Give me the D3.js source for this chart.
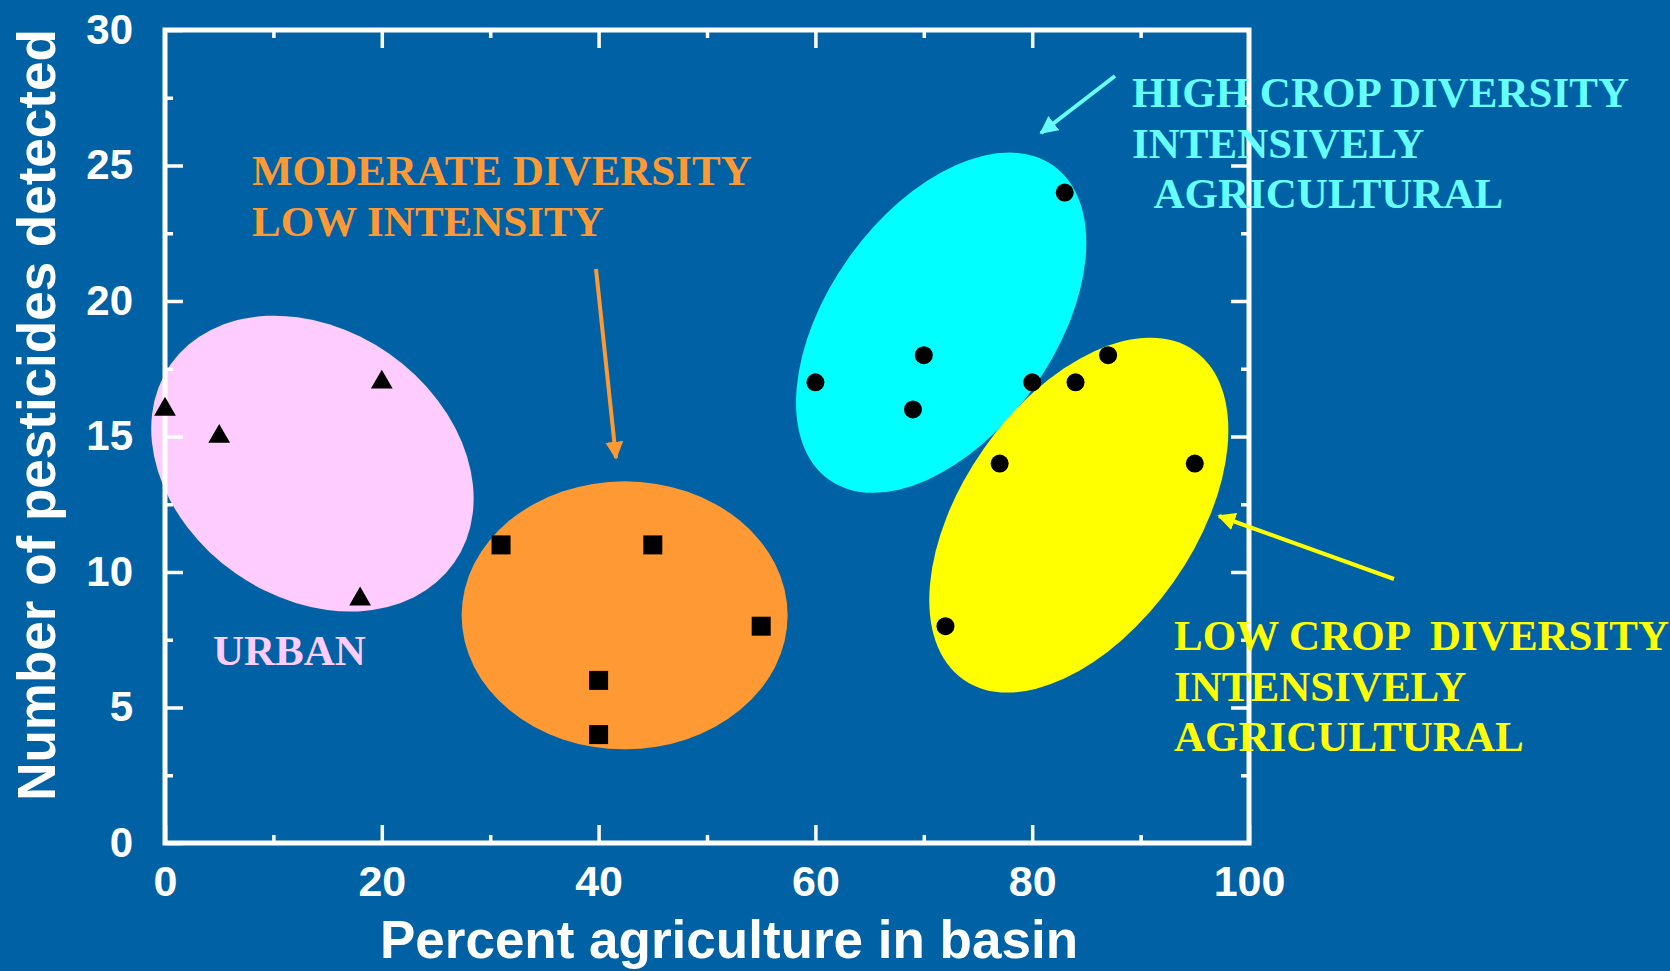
<!DOCTYPE html>
<html>
<head>
<meta charset="utf-8">
<script src="https://cdn.jsdelivr.net/npm/d3@7"></script>
<style>
  html, body { margin: 0; padding: 0; background: #0062a4; }
  svg { display: block; }
  .tick text { font-family: "Liberation Sans", Arial, sans-serif; font-weight: bold; fill: #fff; }
</style>
</head>
<body>
<svg id="chart" width="1670" height="971"></svg>
<script>
// Pesticides detected vs. percent agriculture, by basin type
const urbanX = [0, 5, 20, 18];
const urbanY = [16, 15, 17, 9];

const moderateX = [31, 45, 55, 40, 40];
const moderateY = [11, 11, 8, 6, 4];

const highDiversityX = [60, 69, 70, 80, 83];
const highDiversityY = [17, 16, 18, 17, 24];

const lowDiversityX = [72, 77, 84, 87, 95];
const lowDiversityY = [8, 14, 17, 18, 14];

// Centre of each group's shaded zone, in data units
const zoneCenterX = [13.6, 42.4, 71.6, 84.3];
const zoneCenterY = [14.0, 8.4, 19.2, 12.1];

const xMajorTicks = [0, 20, 40, 60, 80, 100];
const xMinorTicks = [10, 30, 50, 70, 90];
const yMajorTicks = [0, 5, 10, 15, 20, 25, 30];
const yMinorTicks = [2.5, 7.5, 12.5, 17.5, 22.5, 27.5];

const W = 1670, H = 971;
const svg = d3.select("#chart");
svg.append("rect").attr("width", W).attr("height", H).attr("fill", "#0062a4");

const plot = { left: 165, right: 1249, top: 30, bottom: 843 };
const x = d3.scaleLinear().domain([0, 100]).range([plot.left, plot.right]);
const y = d3.scaleLinear().domain([0, 30]).range([plot.bottom, plot.top]);

// Shaded zones (pixel radii and tilt per zone)
const zoneStyle = [
  { fill: "#ffccff", rx: 173, ry: 134, angle: 35 },
  { fill: "#ff9933", rx: 163, ry: 134, angle: 0 },
  { fill: "#00ffff", rx: 193, ry: 113, angle: -54.4 },
  { fill: "#ffff00", rx: 201, ry: 116, angle: -54.9 }
];
const zones = zoneCenterX.map((cx, i) => ({ cx, cy: zoneCenterY[i], ...zoneStyle[i] }));
svg.append("g").selectAll("ellipse").data(zones).join("ellipse")
  .attr("transform", d => `translate(${x(d.cx)},${y(d.cy)}) rotate(${d.angle})`)
  .attr("rx", d => d.rx).attr("ry", d => d.ry)
  .attr("fill", d => d.fill);

// Frame
svg.append("rect")
  .attr("x", plot.left).attr("y", plot.top)
  .attr("width", plot.right - plot.left).attr("height", plot.bottom - plot.top)
  .attr("fill", "none").attr("stroke", "#fff").attr("stroke-width", 5);

function styleAxis(g) {
  g.select(".domain").remove();
  g.selectAll(".tick line").attr("stroke", "#fff").attr("stroke-width", 3.5);
}

// Bottom axis: labelled major ticks, inward
svg.append("g").attr("transform", `translate(0,${plot.bottom})`)
  .call(d3.axisBottom(x).tickValues(xMajorTicks).tickSizeInner(-18).tickSizeOuter(0).tickPadding(22))
  .call(styleAxis)
  .call(g => g.selectAll("text").attr("font-size", 43));
svg.append("g").attr("transform", `translate(0,${plot.bottom})`)
  .call(d3.axisBottom(x).tickValues(xMinorTicks).tickSizeInner(-8).tickSizeOuter(0).tickFormat(""))
  .call(styleAxis);
// Top axis
svg.append("g").attr("transform", `translate(0,${plot.top})`)
  .call(d3.axisTop(x).tickValues(xMajorTicks.slice(1, -1)).tickSizeInner(-18).tickSizeOuter(0).tickFormat(""))
  .call(styleAxis);
svg.append("g").attr("transform", `translate(0,${plot.top})`)
  .call(d3.axisTop(x).tickValues(xMinorTicks).tickSizeInner(-8).tickSizeOuter(0).tickFormat(""))
  .call(styleAxis);
// Left axis
svg.append("g").attr("transform", `translate(${plot.left},0)`)
  .call(d3.axisLeft(y).tickValues(yMajorTicks).tickSizeInner(-18).tickSizeOuter(0).tickPadding(32))
  .call(styleAxis)
  .call(g => g.selectAll("text").attr("font-size", 42));
svg.append("g").attr("transform", `translate(${plot.left},0)`)
  .call(d3.axisLeft(y).tickValues(yMinorTicks).tickSizeInner(-8).tickSizeOuter(0).tickFormat(""))
  .call(styleAxis);
// Right axis
svg.append("g").attr("transform", `translate(${plot.right},0)`)
  .call(d3.axisRight(y).tickValues(yMajorTicks.slice(1, -1)).tickSizeInner(-18).tickSizeOuter(0).tickFormat(""))
  .call(styleAxis);
svg.append("g").attr("transform", `translate(${plot.right},0)`)
  .call(d3.axisRight(y).tickValues(yMinorTicks).tickSizeInner(-8).tickSizeOuter(0).tickFormat(""))
  .call(styleAxis);

// Axis titles
svg.append("text")
  .attr("x", 729).attr("y", 958).attr("text-anchor", "middle")
  .attr("font-family", "Liberation Sans, Arial, sans-serif").attr("font-weight", "bold")
  .attr("font-size", 53).attr("fill", "#fff")
  .text("Percent agriculture in basin");
svg.append("text")
  .attr("transform", "translate(55,415) rotate(-90)").attr("text-anchor", "middle")
  .attr("font-family", "Liberation Sans, Arial, sans-serif").attr("font-weight", "bold")
  .attr("font-size", 53).attr("fill", "#fff")
  .text("Number of pesticides detected");

// Data markers
const pts = (xs, ys) => xs.map((v, i) => ({ x: v, y: ys[i] }));
const markers = svg.append("g");
markers.selectAll("path.tri").data(pts(urbanX, urbanY)).join("path")
  .attr("class", "tri")
  .attr("transform", d => `translate(${x(d.x)},${y(d.y)})`)
  .attr("d", d3.symbol(d3.symbolTriangle, 205)).attr("fill", "#000");
markers.selectAll("path.sq").data(pts(moderateX, moderateY)).join("path")
  .attr("class", "sq")
  .attr("transform", d => `translate(${x(d.x)},${y(d.y)})`)
  .attr("d", d3.symbol(d3.symbolSquare, 361)).attr("fill", "#000");
markers.selectAll("circle")
  .data(pts(highDiversityX, highDiversityY).concat(pts(lowDiversityX, lowDiversityY))).join("circle")
  .attr("cx", d => x(d.x)).attr("cy", d => y(d.y)).attr("r", 9).attr("fill", "#000");

// Arrows pointing to the zones
const defs = svg.append("defs");
function arrowHead(id, color) {
  defs.append("marker").attr("id", id)
    .attr("viewBox", "0 0 10 10").attr("refX", 9).attr("refY", 5)
    .attr("markerWidth", 4.5).attr("markerHeight", 4.5).attr("markerUnits", "strokeWidth")
    .attr("orient", "auto")
    .append("path").attr("d", "M0,0 L10,5 L0,10 z").attr("fill", color);
}
arrowHead("head-orange", "#ff9933");
arrowHead("head-cyan", "#66ffff");
arrowHead("head-yellow", "#ffff00");
const arrows = [
  { x1: 596, y1: 269, x2: 616, y2: 458, color: "#ff9933", head: "head-orange" },
  { x1: 1115, y1: 76, x2: 1041, y2: 133, color: "#66ffff", head: "head-cyan" },
  { x1: 1394, y1: 579, x2: 1219, y2: 516, color: "#ffff00", head: "head-yellow" }
];
svg.append("g").selectAll("line").data(arrows).join("line")
  .attr("x1", d => d.x1).attr("y1", d => d.y1).attr("x2", d => d.x2).attr("y2", d => d.y2)
  .attr("stroke", d => d.color).attr("stroke-width", 4)
  .attr("marker-end", d => `url(#${d.head})`);

// Zone labels
const labels = [
  { lines: ["MODERATE DIVERSITY", "LOW INTENSITY"], x: 252, y: 185, color: "#ff9933" },
  { lines: ["URBAN"], x: 213, y: 665, color: "#ffccff" },
  { lines: ["HIGH CROP DIVERSITY", "INTENSIVELY", "\u00a0\u00a0AGRICULTURAL"], x: 1132, y: 107, color: "#66ffff" },
  { lines: ["LOW CROP \u00a0DIVERSITY", "INTENSIVELY", "AGRICULTURAL"], x: 1174, y: 650, color: "#ffff00" }
];
const lab = svg.append("g")
  .attr("font-family", "Liberation Serif, Times New Roman, serif")
  .attr("font-weight", "bold").attr("font-size", 43);
labels.forEach(l => {
  const t = lab.append("text").attr("x", l.x).attr("y", l.y).attr("fill", l.color)
    .attr("xml:space", "preserve");
  l.lines.forEach((s, i) => {
    t.append("tspan").attr("x", l.x).attr("dy", i === 0 ? 0 : 50.5).text(s);
  });
});
</script>
</body>
</html>
